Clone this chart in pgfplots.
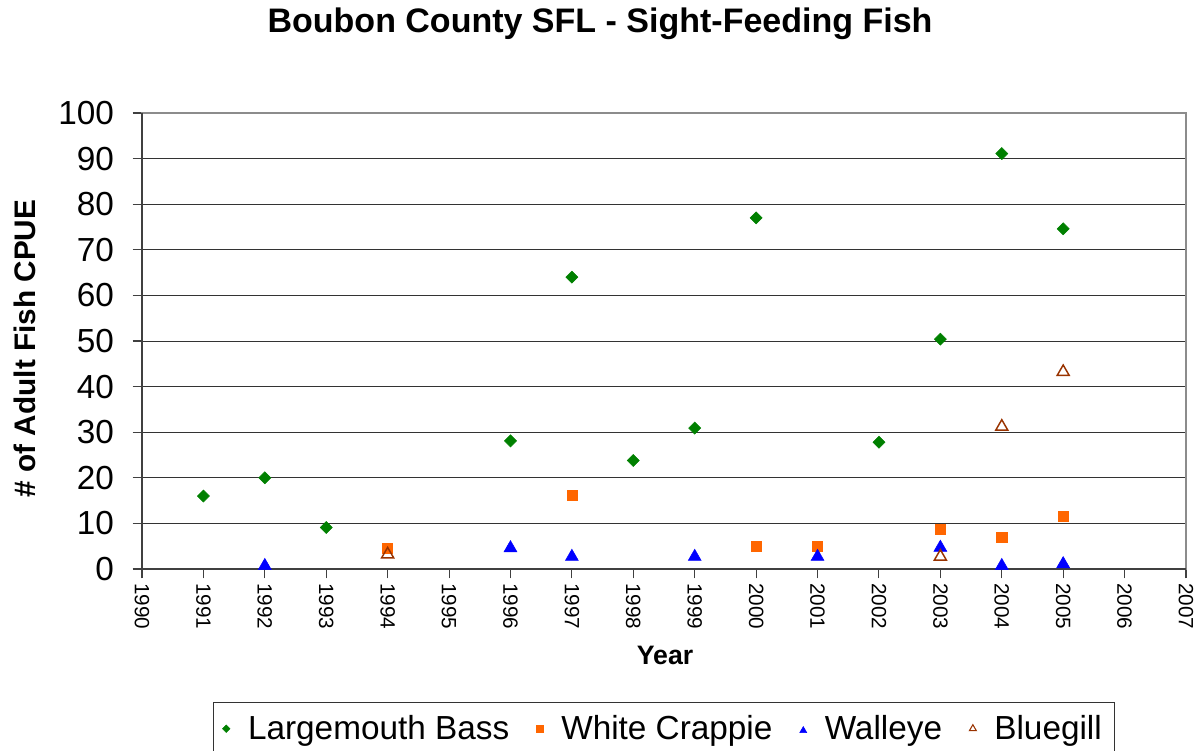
\documentclass[border=0pt]{standalone}
\usepackage{fontspec}
\setmainfont{Liberation Sans}
\usepackage{pgfplots}
\pgfplotsset{compat=1.18}
\definecolor{bassgreen}{RGB}{0,128,0}
\definecolor{crappie}{RGB}{255,102,0}
\definecolor{walleye}{RGB}{0,0,255}
\definecolor{bluegill}{RGB}{153,51,0}

\begin{document}
\begin{tikzpicture}
% picture frame, 0.75pt per pixel of the reference
\path[use as bounding box] (-106.5pt,-135.75pt) rectangle (794.25pt,426.75pt);
\begin{axis}[
    at={(0,0)}, anchor=south west,
    scale only axis,
    width=783pt,
    height=342pt,
    xmin=1990, xmax=2007,
    ymin=0, ymax=100,
    xtick distance=1,
    ytick distance=10,
    tick align=outside,
    xtick pos=bottom, ytick pos=left,
    major tick length=7pt,
    tick style={black!75, line width=0.8pt},
    ymajorgrids,
    grid style={black!80, line width=0.75pt},
    axis line style={gray!90, line width=0.9pt},
    clip=false,
    /pgf/number format/assume math mode=true,
    /pgf/number format/1000 sep={},
    xticklabel style={font=\fontsize{15.5}{18}\selectfont, rotate=-90, anchor=west},
    yticklabel style={font=\fontsize{25}{28}\selectfont, xshift=-10.5pt},
    title={Boubon County SFL - Sight-Feeding Fish},
    title style={font=\bfseries\fontsize{25.5}{30}\selectfont, at={(axis description cs:0.4387,1.158)}, anchor=base},
    xlabel={Year},
    xlabel style={font=\bfseries\fontsize{20}{24}\selectfont, at={(axis description cs:0.501,-0.2105)}, anchor=base},
    ylabel={\# of Adult Fish CPUE},
    ylabel style={font=\bfseries\fontsize{22.3}{26}\selectfont, at={(axis description cs:-0.112,0.4836)}, anchor=center},
    legend style={at={(axis description cs:0.4995,-0.2917)}, anchor=north,
        legend columns=4, font=\fontsize{25}{30}\selectfont,
        draw=black!80, inner xsep=7pt, inner ysep=8pt,
        /tikz/every odd column/.append style={column sep=11.5pt},
        /tikz/every even column/.append style={column sep=18.5pt}},
]
\addplot[only marks, mark=square*, mark size=3.2pt, mark options={rotate=45}, color=bassgreen,
    legend image post style={mark size=2pt}]
  coordinates {(1991,16) (1992,20) (1993,9.1) (1996,28.1) (1997,64) (1998,23.8) (1999,30.9) (2000,77) (2002,27.8) (2003,50.4) (2004,91.1) (2005,74.6)};
\addlegendentry{Largemouth Bass}
\addplot[only marks, mark=square*, mark size=3.8pt, color=crappie,
    legend image post style={mark size=2.5pt}]
  coordinates {(1994,4.5) (1997,16.2) (2000,4.9) (2001,4.9) (2003,8.8) (2004,6.9) (2005,11.6)};
\addlegendentry{White Crappie}
\addplot[only marks, mark=triangle*, mark size=5.6pt, mark options={yshift=-1.4pt}, color=walleye,
    legend image post style={mark size=3pt}]
  coordinates {(1992,1.1) (1996,5) (1997,3.1) (1999,3.1) (2001,3.1) (2003,5.1) (2004,1.1) (2005,1.5)};
\addlegendentry{Walleye}
\addplot[only marks, mark=triangle, mark size=5.2pt, mark options={line width=1.1pt, yshift=-1.3pt}, color=bluegill,
    legend image post style={mark size=3pt, mark options={line width=0.8pt}}]
  coordinates {(1994,3.6) (2003,3.1) (2004,31.6) (2005,43.6)};
\addlegendentry{Bluegill}
\draw[black!75, line width=0.9pt] (rel axis cs:0,1) -- (rel axis cs:0,0) -- (rel axis cs:1,0);
\end{axis}
\end{tikzpicture}
\end{document}
